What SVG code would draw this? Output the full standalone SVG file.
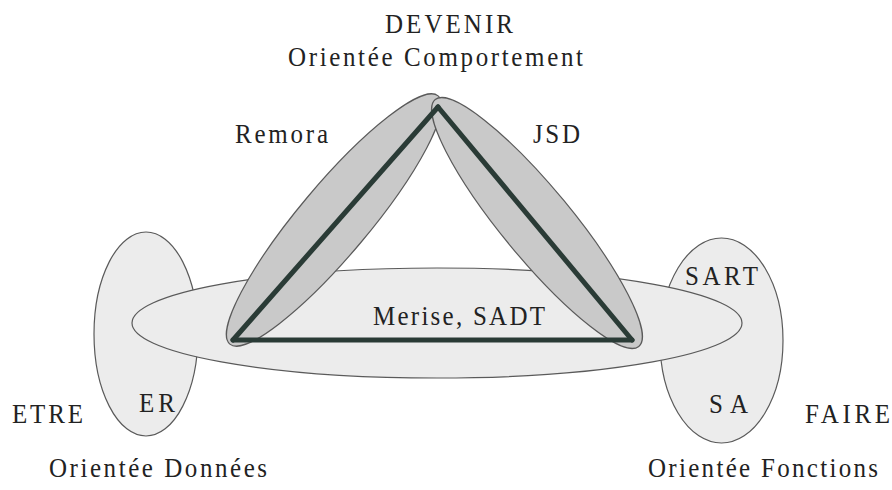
<svg xmlns="http://www.w3.org/2000/svg" width="892" height="490" viewBox="0 0 892 490">
<defs>
<style>
.bg{fill:#ffffff}
.light{fill:#ececec;stroke:#5a5a5a;stroke-width:1.2}
.dark{fill:#c9c9c9;stroke:#5a5a5a;stroke-width:1.2}
.edge{stroke:#2a3b36;stroke-width:5;stroke-linecap:round;fill:none}
text{font-family:"Liberation Serif","Times New Roman",serif;font-size:25px;fill:#222222}
</style>
</defs>
<rect class="bg" x="0" y="0" width="892" height="490"/>
<g id="donnees">
<ellipse class="light" cx="146" cy="334" rx="52" ry="102"/>
<text transform="translate(0 412) scale(1 1.12)" x="139" y="0" textLength="36">ER</text>
</g>
<g id="fonctions">
<ellipse class="light" cx="721.5" cy="340.5" rx="61.5" ry="102.5"/>
<text transform="translate(0 285) scale(1 1.12)" x="685" y="0" textLength="73">SART</text>
<text transform="translate(0 413) scale(1 1.12)" x="709" y="0" textLength="39">SA</text>
</g>
<g id="merise">
<ellipse class="light" cx="437" cy="323" rx="305" ry="55"/>
<text transform="translate(0 325) scale(1 1.12)" x="373" y="0" textLength="172">Merise, SADT</text>
</g>
<g id="remora">
<ellipse class="dark" cx="0" cy="0" rx="162" ry="35" transform="translate(334 220) rotate(-50)"/>
<text transform="translate(0 143) scale(1 1.12)" x="235" y="0" textLength="93">Remora</text>
</g>
<g id="jsd">
<ellipse class="dark" cx="0" cy="0" rx="160" ry="35" transform="translate(537 223) rotate(50.5)"/>
<text transform="translate(0 143) scale(1 1.12)" x="533" y="0" textLength="47">JSD</text>
</g>
<g id="connectors">
<line class="edge" x1="233" y1="340" x2="438" y2="107"/>
<line class="edge" x1="438" y1="107" x2="632" y2="340"/>
<line class="edge" x1="233" y1="340" x2="632" y2="340"/>
</g>
<g id="titles">
<text transform="translate(0 33) scale(1 1.12)" x="385" y="0" textLength="128">DEVENIR</text>
<text transform="translate(0 66) scale(1 1.12)" x="288" y="0" textLength="295">Orientée Comportement</text>
<text transform="translate(0 423) scale(1 1.12)" x="12" y="0" textLength="71">ETRE</text>
<text transform="translate(0 423) scale(1 1.12)" x="805" y="0" textLength="85">FAIRE</text>
<text transform="translate(0 477) scale(1 1.12)" x="49" y="0" textLength="218">Orientée Données</text>
<text transform="translate(0 477) scale(1 1.12)" x="648" y="0" textLength="230">Orientée Fonctions</text>
</g>
</svg>
